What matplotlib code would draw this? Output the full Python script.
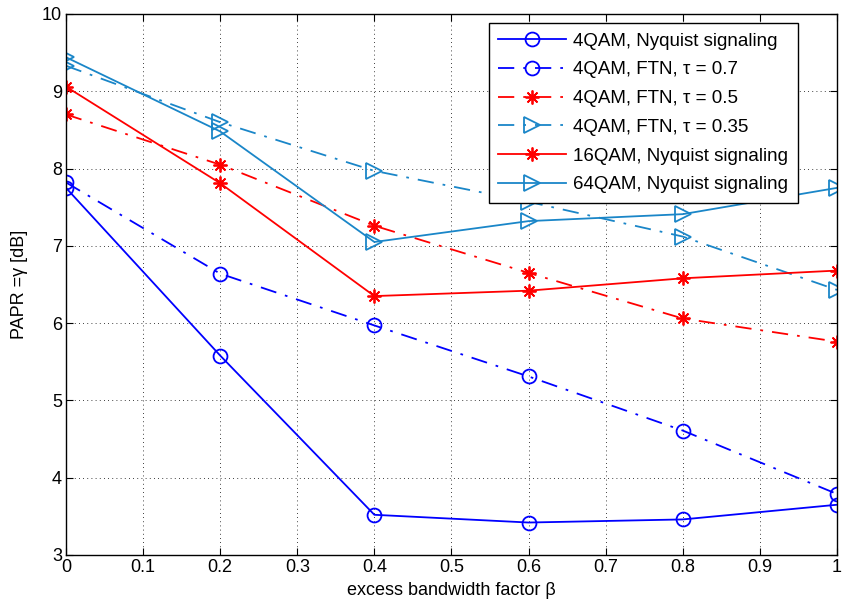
import numpy as np
import matplotlib
matplotlib.use('Agg')
import matplotlib.pyplot as plt

plt.rcParams['font.family'] = ['Liberation Sans', 'DejaVu Sans']

beta = [0, 0.2, 0.4, 0.6, 0.8, 1.0]

qam4_nyq = [7.75, 5.58, 3.52, 3.42, 3.46, 3.65]
qam4_ftn07 = [7.82, 6.64, 5.97, 5.31, 4.61, 3.79]
qam4_ftn05 = [8.70, 8.05, 7.26, 6.65, 6.06, 5.76]
qam4_ftn035 = [9.33, 8.60, 7.97, 7.57, 7.12, 6.43]
qam16_nyq = [9.06, 7.81, 6.35, 6.42, 6.58, 6.68]
qam64_nyq = [9.44, 8.48, 7.05, 7.32, 7.41, 7.75]

labels = ['4QAM, Nyquist signaling', '4QAM, FTN, \u03c4 = 0.7', '4QAM, FTN, \u03c4 = 0.5',
          '4QAM, FTN, \u03c4 = 0.35', '16QAM, Nyquist signaling', '64QAM, Nyquist signaling']

blue = '#0000ff'
red = '#ff0000'
lblue = '#1a86c8'
star = (8, 2, 0)
dashdot = (0, (9, 5, 1.5, 5))

fig = plt.figure(figsize=(8.42, 6.08), dpi=100)
ax = fig.add_axes([0.0784, 0.0872, 0.9156, 0.8898])

ax.plot(beta, qam4_nyq, '-', color=blue, marker='o', ms=10, mfc='none', mew=1.3, lw=1.3, label=labels[0])
ax.plot(beta, qam4_ftn07, linestyle=dashdot, color=blue, marker='o', ms=10, mfc='none', mew=1.3, lw=1.3, label=labels[1])
ax.plot(beta, qam4_ftn05, linestyle=dashdot, color=red, marker=star, ms=10, mew=1.3, lw=1.3, label=labels[2])
ax.plot(beta, qam4_ftn035, linestyle=dashdot, color=lblue, marker='>', ms=11, mfc='none', mew=1.3, lw=1.3, label=labels[3])
ax.plot(beta, qam16_nyq, '-', color=red, marker=star, ms=10, mew=1.3, lw=1.3, label=labels[4])
ax.plot(beta, qam64_nyq, '-', color=lblue, marker='>', ms=11, mfc='none', mew=1.3, lw=1.3, label=labels[5])

ax.set_xlim(0, 1)
ax.set_ylim(3, 10)
ax.set_xticks(np.arange(0, 1.01, 0.1))
ax.set_xticklabels(['0', '0.1', '0.2', '0.3', '0.4', '0.5', '0.6', '0.7', '0.8', '0.9', '1'])
ax.set_yticks(range(3, 11))
ax.tick_params(direction='in', length=5, labelsize=13, top=True, right=True, pad=3)
ax.grid(True, color='k', linestyle=(0, (1, 4)), lw=0.6)
for s in ax.spines.values():
    s.set_linewidth(1.0)

ax.set_xlabel('excess bandwidth factor \u03b2', fontsize=13, labelpad=4)
ax.set_ylabel('PAPR =\u03b3 [dB]', fontsize=13, labelpad=10)

leg = ax.legend(loc='upper right', bbox_to_anchor=(0.949, 0.983), borderaxespad=0, fontsize=13.5,
                fancybox=False, framealpha=1, edgecolor='k', handlelength=3.6, handletextpad=0.4,
                borderpad=0.5, labelspacing=0.62)
leg.get_frame().set_linewidth(1.0)

fig.savefig('out.png', dpi=100)
